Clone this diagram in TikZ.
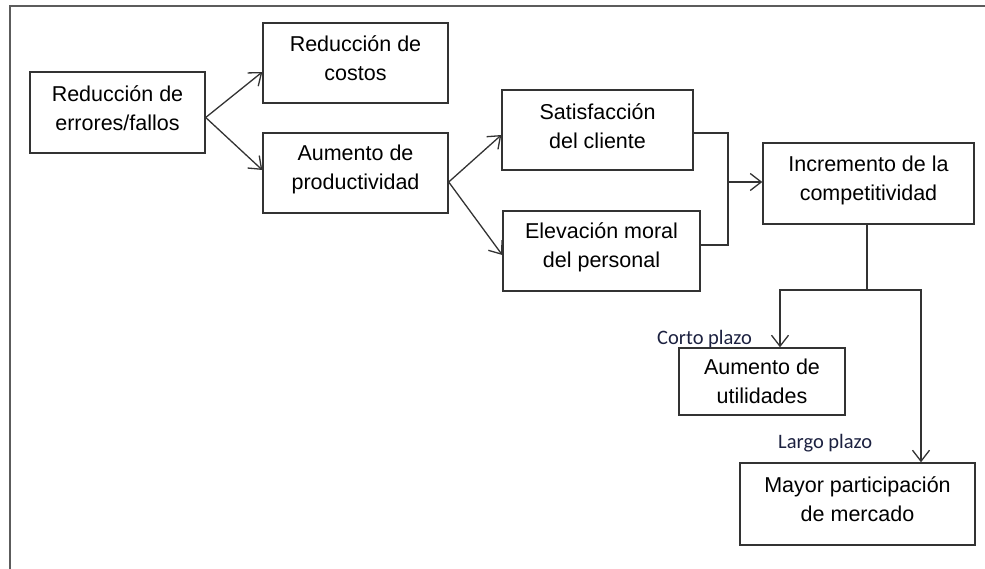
\documentclass[tikz,border=0pt]{standalone}
\usepackage{fontspec}
\setmainfont{Liberation Sans}
\newfontfamily\lblfont{Carlito}
\usetikzlibrary{arrows.meta}
\definecolor{ln}{HTML}{333333}
\definecolor{lbl}{HTML}{1C2140}
\tikzset{
  x=1pt, y=-1pt,
  box/.style={draw=ln, line width=1.4pt, inner sep=0pt},
  boxtext/.style={align=center, inner sep=0pt, font=\fontsize{21.5}{29}\selectfont},
  conn/.style={draw=ln, line width=1.3pt},
  arr/.style={conn, -{Straight Barb[length=11pt,width=17pt,line width=1.3pt]}},
  lblstyle/.style={anchor=base west, inner sep=0pt, text=lbl, font=\lblfont\fontsize{20.5}{24}\selectfont}
}
\begin{document}
\begin{tikzpicture}
\useasboundingbox (0,0) rectangle (985,569);
% frame (only top and left edges visible)
\draw[draw=ln!80, line width=2pt] (10,569) -- (10,6) -- (985,6);

% boxes
\node[box, minimum width=175pt, minimum height=81pt] (a) at (117.5,112.5) {};
\node[boxtext] (ta) at ([yshift=4pt]a.center) {Reducción de\\errores/fallos};
\node[box, minimum width=185pt, minimum height=80pt] (b) at (355.5,63) {};
\node[boxtext] (tb) at ([yshift=5pt]b.center) {Reducción de\\costos};
\node[box, minimum width=185pt, minimum height=80pt] (c) at (355.5,173) {};
\node[boxtext] (tc) at ([yshift=4pt]c.center) {Aumento de\\productividad};
\node[box, minimum width=191pt, minimum height=80pt] (d) at (597.5,130) {};
\node[boxtext] (td) at ([yshift=4pt]d.center) {Satisfacción\\del cliente};
\node[box, minimum width=197pt, minimum height=80pt] (e) at (601.5,251) {};
\node[boxtext] (te) at ([yshift=4pt]e.center) {Elevación moral\\del personal};
\node[box, minimum width=211pt, minimum height=81pt] (f) at (868.5,183.5) {};
\node[boxtext] (tf) at ([yshift=3pt]f.center) {Incremento de la\\competitividad};
\node[box, minimum width=166pt, minimum height=67pt] (g) at (762,381.5) {};
\node[boxtext] (tg) at ([yshift=0pt]g.center) {Aumento de\\utilidades};
\node[box, minimum width=235pt, minimum height=82pt] (h) at (857.5,504) {};
\node[boxtext] (th) at ([yshift=5pt]h.center) {Mayor participación\\de mercado};

% junction coordinates
\coordinate (j) at (728,182);
\coordinate (k) at (867,290);

% connectors
\draw[arr] ([yshift=-5pt]a.east) -- ([yshift=-9pt]b.west);
\draw[arr] ([yshift=-5pt]a.east) -- ([yshift=3pt]c.west);
\draw[arr] ([yshift=-9pt]c.east) -- ([yshift=-5pt]d.west);
\draw[arr] ([yshift=-9pt]c.east) -- ([yshift=-4pt]e.west);
\draw[conn] ([yshift=-3pt]d.east) -| (j) |- ([yshift=6pt]e.east);
\draw[arr] (j) -- (j -| f.west);
\draw[conn] (f.south -| k) -- (k);
\draw[arr] (k) -| ([xshift=18pt]g.north);
\draw[arr] (k) -| ([xshift=63.5pt]h.north);

% labels
\node[lblstyle] (lc) at (657,344) {Corto plazo};
\node[lblstyle] (ll) at (778,448) {Largo plazo};
\end{tikzpicture}
\end{document}
